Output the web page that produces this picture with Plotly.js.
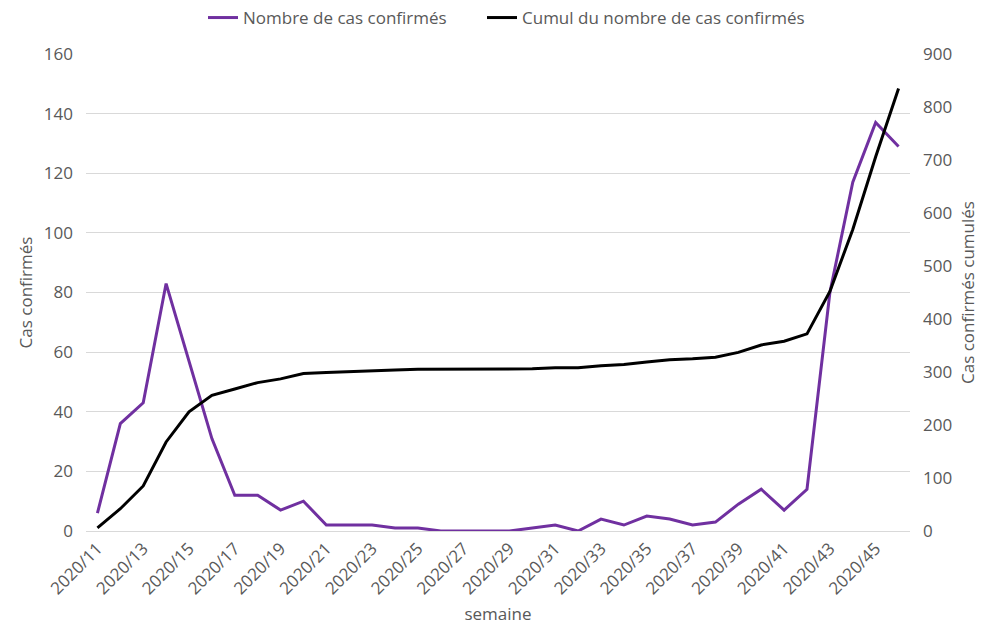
<!DOCTYPE html>
<html>
<head>
<meta charset="utf-8">
<script src="https://cdn.plot.ly/plotly-3.0.1.min.js"></script>
<style>html,body{margin:0;padding:0;background:#fff;}#chart{width:982px;height:625px;}</style>
</head>
<body>
<div id="chart"></div>
<script>
const semaines = ["2020/11","2020/12","2020/13","2020/14","2020/15","2020/16","2020/17","2020/18","2020/19","2020/20",
  "2020/21","2020/22","2020/23","2020/24","2020/25","2020/26","2020/27","2020/28","2020/29","2020/30",
  "2020/31","2020/32","2020/33","2020/34","2020/35","2020/36","2020/37","2020/38","2020/39","2020/40",
  "2020/41","2020/42","2020/43","2020/44","2020/45","2020/46"];
const casConfirmes = [6,36,43,83,57,31,12,12,7,10,2,2,2,1,1,0,0,0,0,1,2,0,4,2,5,4,2,3,9,14,7,14,80,117,137,129];
const cumulCas = [6,42,85,168,225,256,268,280,287,297,299,301,303,304,305,305,305,305,305,306,308,308,312,314,319,323,325,328,337,351,358,372,452,569,706,835];
const tickLabels = ["2020/11","2020/13","2020/15","2020/17","2020/19","2020/21","2020/23","2020/25","2020/27","2020/29",
  "2020/31","2020/33","2020/35","2020/37","2020/39","2020/41","2020/43","2020/45"];
const leftTicks = [0,20,40,60,80,100,120,140,160];
const rightTicks = [0,100,200,300,400,500,600,700,800,900];

const fontFam = "'Open Sans', sans-serif";
const txtColor = "#595959";

const traces = [
  {x: semaines, y: casConfirmes, type: 'scatter', mode: 'lines', name: 'Nombre de cas confirmés',
   line: {color: '#7030a0', width: 3}, yaxis: 'y', legend: 'legend'},
  {x: semaines, y: cumulCas, type: 'scatter', mode: 'lines', name: 'Cumul du nombre de cas confirmés',
   line: {color: '#000000', width: 3}, yaxis: 'y2', legend: 'legend2'}
];

const legendBase = {orientation: 'h', xref: 'container', xanchor: 'left',
  y: 1 - 18/625, yref: 'container', yanchor: 'middle',
  font: {size: 17, color: txtColor}, itemwidth: 30, bgcolor: 'rgba(0,0,0,0)'};

const layout = {
  width: 982, height: 625,
  margin: {l: 86, r: 72, t: 54, b: 94},
  paper_bgcolor: '#fff', plot_bgcolor: '#fff',
  font: {family: fontFam, size: 17, color: txtColor},
  showlegend: true,
  legend: Object.assign({}, legendBase, {x: 203/982}),
  legend2: Object.assign({}, legendBase, {x: 482/982}),
  xaxis: {type: 'category', tickmode: 'array', tickvals: tickLabels, ticktext: tickLabels,
          tickangle: -45, showgrid: false, zeroline: false, showline: true, linecolor: '#d9d9d9',
          ticks: '', tickfont: {size: 17, color: txtColor}, automargin: false,
          title: {text: 'semaine', font: {size: 17, color: txtColor}, standoff: 19},
          range: [-0.5, semaines.length - 0.5]},
  yaxis: {range: [0, 160], tickmode: 'array', tickvals: leftTicks, showgrid: true, gridcolor: '#d9d9d9',
          gridwidth: 1, zeroline: false, showline: false, ticks: '', ticklabelstandoff: 12,
          tickfont: {size: 17, color: txtColor}, automargin: false,
          title: {text: 'Cas confirmés', font: {size: 17, color: txtColor}, standoff: 6}},
  yaxis2: {range: [0, 900], overlaying: 'y', side: 'right', tickmode: 'array', tickvals: rightTicks,
           showgrid: false, zeroline: false, showline: false, ticks: '', ticklabelstandoff: 12,
           tickfont: {size: 17, color: txtColor}, automargin: false,
           title: {text: 'Cas confirmés cumulés', font: {size: 17, color: txtColor}, standoff: 10}}
};

Plotly.newPlot('chart', traces, layout, {displayModeBar: false, responsive: false});
</script>
</body>
</html>
